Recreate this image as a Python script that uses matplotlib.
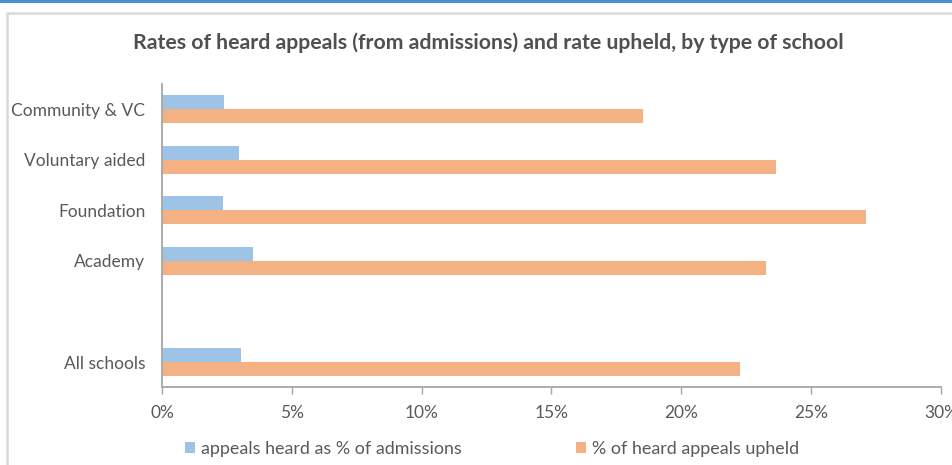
import matplotlib.pyplot as plt
from matplotlib.lines import Line2D
import matplotlib.ticker as mtick

plt.rcParams["font.family"] = ["Lato", "DejaVu Sans"]

categories = ["All schools", "", "Academy", "Foundation", "Voluntary aided", "Community & VC"]
heard_pct = [3.05, None, 3.51, 2.34, 2.98, 2.40]
upheld_pct = [22.25, None, 23.27, 27.10, 23.66, 18.53]
series_labels = ["appeals heard as % of admissions", "% of heard appeals upheld"]
x_ticks = [0, 5, 10, 15, 20, 25, 30]

BLUE = "#9DC3E6"
ORANGE = "#F4B183"
TEXT = "#595959"
AXIS = "#A6A6A6"

fig = plt.figure(figsize=(9.53, 4.65), dpi=100)

# page bits: blue rule along the top and light chart border
fig.add_artist(Line2D([0, 1], [1 - 1 / 465, 1 - 1 / 465], transform=fig.transFigure,
                      color="#4A8FD0", lw=2.2))
fig.add_artist(Line2D([7 / 953, 7 / 953, 1.0], [0, 1 - 13 / 465, 1 - 13 / 465],
                      transform=fig.transFigure, color="#D9D9D9", lw=1.8))

ax = fig.add_axes([162 / 953, 1 - 387.3 / 465, (941 - 162) / 953, (387.3 - 83.7) / 465])

h = 0.277
for i, cat in enumerate(categories):
    if heard_pct[i] is None:
        continue
    ax.barh(i + h / 2, heard_pct[i], height=h, color=BLUE,
            label=series_labels[0] if i == 0 else None)
    ax.barh(i - h / 2, upheld_pct[i], height=h, color=ORANGE,
            label=series_labels[1] if i == 0 else None)

ax.set_xlim(0, 30)
ax.set_ylim(-0.5, len(categories) - 0.5)
ax.set_xticks(x_ticks)
ax.xaxis.set_major_formatter(mtick.FuncFormatter(lambda v, p: f"{v:.0f}%"))
ax.set_yticks(range(len(categories)))
ax.set_yticklabels(categories)

for s in ["top", "right"]:
    ax.spines[s].set_visible(False)
for s in ["left", "bottom"]:
    ax.spines[s].set_color(AXIS)
    ax.spines[s].set_linewidth(1.3)

ax.tick_params(axis="x", direction="out", length=5, width=1, color=AXIS,
               labelcolor=TEXT, labelsize=12.5, pad=8)
ax.tick_params(axis="y", length=0, labelcolor=TEXT, labelsize=12.5, pad=12)

fig.text(488 / 953, 1 - 43 / 465, "Rates of heard appeals (from admissions) and rate upheld, by type of school",
         ha="center", va="center", fontsize=15.3, fontweight="bold", color="#505050")

handles, labels = ax.get_legend_handles_labels()
fig.legend(handles, labels, loc="center", bbox_to_anchor=(492 / 953, 1 - 449 / 465),
           ncol=2, frameon=False, handlelength=0.56, handleheight=0.56, handletextpad=0.33,
           columnspacing=6.4, fontsize=12.9, labelcolor=TEXT)

fig.savefig("out.png", dpi=100)
